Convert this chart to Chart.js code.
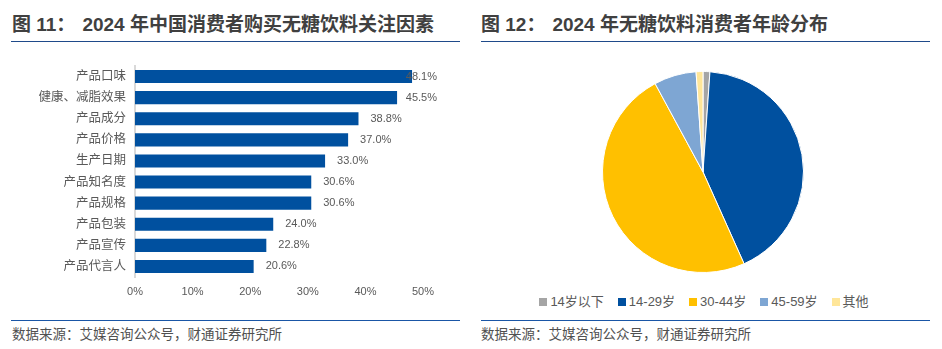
<!DOCTYPE html>
<html>
<head>
<meta charset="utf-8">
<script src="https://cdn.jsdelivr.net/npm/chart.js@4.4.1/dist/chart.umd.min.js"></script>
<style>
  body { margin: 0; width: 942px; height: 349px; background: #fff; position: relative; overflow: hidden;
         font-family: "Liberation Sans", "Noto Sans CJK SC", sans-serif; }
  .title { position: absolute; top: 12px; font-size: 19px; font-weight: bold; color: #404040;
           line-height: 26px; white-space: nowrap; }
  .title .sub { margin-left: 7px; }
  .rule { position: absolute; height: 1px; }
  .rule.top { top: 41px; background: #1f4a8a; }
  .rule.bottom { top: 320px; background: #1a56a6; }
  .source { position: absolute; top: 325px; font-size: 13.5px; line-height: 20px; color: #505050; white-space: nowrap; }
  canvas { position: absolute; }
  #legend { position: absolute; left: 480px; top: 294px; width: 448px; display: flex; justify-content: center;
            align-items: center; font-size: 13px; line-height: 16px; color: #595959; }
  #legend .item { display: flex; align-items: center; margin: 0 7px; white-space: nowrap; }
  #legend .box { width: 8px; height: 8px; margin-right: 3px; }
</style>
</head>
<body>

<div class="title" style="left:12px">图 11：<span class="sub">2024 年中国消费者购买无糖饮料关注因素</span></div>
<div class="rule top" style="left:11px;width:449px"></div>
<div class="title" style="left:481px">图 12：<span class="sub">2024 年无糖饮料消费者年龄分布</span></div>
<div class="rule top" style="left:481px;width:449px"></div>

<canvas id="factors" width="460" height="245" style="left:10px;top:60px"></canvas>
<canvas id="ages" width="202" height="202" style="left:602px;top:71px"></canvas>
<div id="legend"></div>

<div class="rule bottom" style="left:11px;width:449px"></div>
<div class="source" style="left:12px">数据来源：艾媒咨询公众号，财通证券研究所</div>
<div class="rule bottom" style="left:481px;width:449px"></div>
<div class="source" style="left:481px">数据来源：艾媒咨询公众号，财通证券研究所</div>

<script>
// 关注因素（%）
const factorLabels = ['产品口味', '健康、减脂效果', '产品成分', '产品价格', '生产日期',
                      '产品知名度', '产品规格', '产品包装', '产品宣传', '产品代言人'];
const factorValues = [48.1, 45.5, 38.8, 37.0, 33.0, 30.6, 30.6, 24.0, 22.8, 20.6];
const factorTicks = [0, 10, 20, 30, 40, 50];

// 年龄分布（%）
const ageLabels = ['14岁以下', '14-29岁', '30-44岁', '45-59岁', '其他'];
const ageValues = [1.1, 42.2, 48.8, 6.8, 1.1];
const ageColors = ['#a5a5a5', '#00509f', '#ffc000', '#7ea6d3', '#ffe699'];

const textColor = '#595959';
const cjkFont = '"Liberation Sans", "Noto Sans CJK SC", sans-serif';

// value text after each bar, kept inside the plot's right edge
const valueLabels = {
  id: 'valueLabels',
  afterDatasetsDraw(chart) {
    const ctx = chart.ctx;
    const meta = chart.getDatasetMeta(0);
    const edge = 427;
    ctx.save();
    ctx.font = '11px ' + cjkFont;
    ctx.fillStyle = textColor;
    ctx.textBaseline = 'middle';
    meta.data.forEach(function (bar, i) {
      const text = factorValues[i].toFixed(1) + '%';
      const w = ctx.measureText(text).width;
      ctx.fillText(text, Math.min(bar.x + 12, edge - w), bar.y);
    });
    ctx.restore();
  }
};

new Chart(document.getElementById('factors'), {
  type: 'bar',
  data: {
    labels: factorLabels,
    datasets: [{
      data: factorValues,
      backgroundColor: '#00509f',
      barPercentage: 0.62,
      categoryPercentage: 1
    }]
  },
  options: {
    indexAxis: 'y',
    responsive: false,
    animation: false,
    layout: { padding: { top: 6, right: 47, left: 0, bottom: 0 } },
    plugins: { legend: { display: false }, tooltip: { enabled: false } },
    scales: {
      x: {
        min: 0,
        max: 50,
        afterBuildTicks: function (scale) {
          scale.ticks = factorTicks.map(function (v) { return { value: v }; });
        },
        ticks: { callback: function (v) { return v + '%'; }, color: textColor,
                 font: { size: 11, family: cjkFont }, padding: 8, maxRotation: 0 },
        grid: { display: false, drawTicks: false },
        border: { display: false },
        afterFit: function (scale) { scale.height = 28; }
      },
      y: {
        grid: { display: false, drawTicks: false },
        border: { color: '#d9d9d9', width: 2 },
        ticks: { color: textColor, font: { size: 12.5, family: cjkFont }, padding: 9 },
        afterFit: function (scale) {
          scale.width = 125;
          // the plot top is set by layout padding, not by label height
          scale.paddingTop = 0;
          scale.paddingBottom = 0;
        }
      }
    }
  },
  plugins: [valueLabels]
});

new Chart(document.getElementById('ages'), {
  type: 'pie',
  data: {
    labels: ageLabels,
    datasets: [{
      data: ageValues,
      backgroundColor: ageColors,
      borderColor: '#ffffff',
      borderWidth: 1,
      hoverOffset: 0
    }]
  },
  options: {
    responsive: false,
    animation: false,
    layout: { padding: 0 },
    plugins: { legend: { display: false }, tooltip: { enabled: false } }
  }
});

// legend row under the pie
const legend = document.getElementById('legend');
ageLabels.forEach(function (name, i) {
  const item = document.createElement('div');
  item.className = 'item';
  item.innerHTML = '<span class="box" style="background:' + ageColors[i] + '"></span>' + name;
  legend.appendChild(item);
});
</script>
</body>
</html>
